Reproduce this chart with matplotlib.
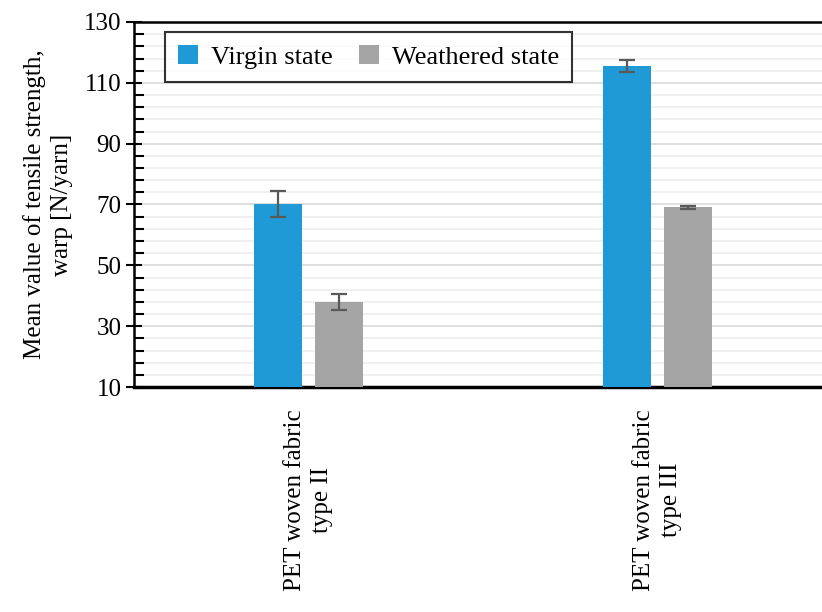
import numpy as np
import matplotlib.pyplot as plt

# data
categories = ['PET woven fabric\ntype II', 'PET woven fabric\ntype III']
virgin = [70.2, 115.6]
virgin_err = [4.2, 2.0]
weathered = [38.0, 69.1]
weathered_err = [2.6, 0.5]
y_ticks = [10, 30, 50, 70, 90, 110, 130]

plt.rcParams['font.family'] = ['Liberation Serif', 'DejaVu Serif']
fs = 18

fig = plt.figure(figsize=(8.22, 6.12), dpi=100)
ax = fig.add_axes([134 / 822, 1 - 387 / 612, (832 - 134) / 822, (387 - 22) / 612])

x = np.arange(len(categories))
w = 0.138
off = 0.087
err_kw = dict(ecolor='#595959', elinewidth=1.6, capsize=6, capthick=1.6)
ax.bar(x - off, virgin, w, yerr=virgin_err, color='#1f9ad6', label='Virgin state',
       error_kw=err_kw, zorder=3)
ax.bar(x + off, weathered, w, yerr=weathered_err, color='#a5a5a5', label='Weathered state',
       error_kw=err_kw, zorder=3)

ax.set_xlim(-0.5, 1.5)
ax.set_ylim(10, 130)
ax.set_yticks(y_ticks)
ax.set_yticks(np.arange(10, 131, 4), minor=True)
ax.grid(axis='y', which='major', color='#d9d9d9', linewidth=1.2, zorder=0)
ax.grid(axis='y', which='minor', color='#eeeeee', linewidth=1.2, zorder=0)

ax.set_xticks(x)
ax.set_xticklabels(categories, rotation=90, fontsize=fs, ha='center', va='top',
                   multialignment='center', linespacing=1.3)
ax.tick_params(axis='x', length=0, pad=16)
ax.tick_params(axis='y', which='major', direction='inout', length=12, width=1.5,
               labelsize=fs, pad=3)
ax.tick_params(axis='y', which='minor', direction='in', length=7, width=1.5)

for side in ['left', 'top']:
    ax.spines[side].set_linewidth(1.8)
ax.spines['bottom'].set_linewidth(2.5)
ax.spines['right'].set_visible(False)

ax.set_ylabel('Mean value of tensile strength,\nwarp [N/yarn]', fontsize=fs,
              labelpad=8, linespacing=1.3)

leg = ax.legend(loc='upper left', bbox_to_anchor=(0.044, 0.973), borderaxespad=0,
                ncol=2, fontsize=19, frameon=True, fancybox=False, edgecolor='black',
                handlelength=0.75, handleheight=0.75, handletextpad=0.5,
                columnspacing=1.0, borderpad=0.5)
leg.get_frame().set_linewidth(1.5)

fig.savefig('out.png', dpi=100)
